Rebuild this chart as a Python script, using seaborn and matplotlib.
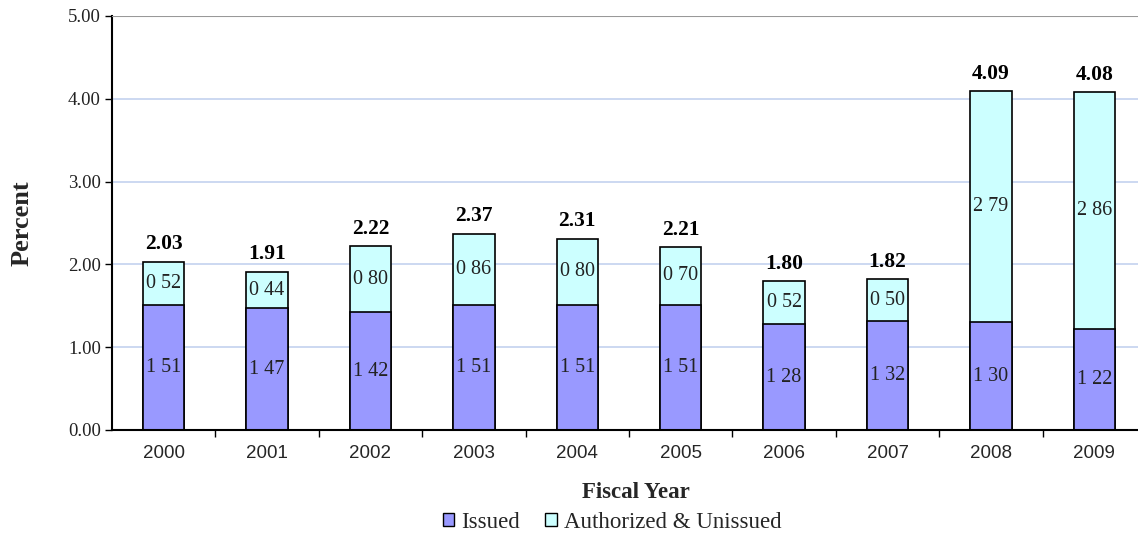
import matplotlib
matplotlib.use("Agg")
import matplotlib.pyplot as plt
import seaborn as sns
import pandas as pd
from matplotlib.patches import Patch

years = ["2000", "2001", "2002", "2003", "2004", "2005", "2006", "2007", "2008", "2009"]
issued = [1.51, 1.47, 1.42, 1.51, 1.51, 1.51, 1.28, 1.32, 1.30, 1.22]
authorized = [0.52, 0.44, 0.80, 0.86, 0.80, 0.70, 0.52, 0.50, 2.79, 2.86]
totals = [2.03, 1.91, 2.22, 2.37, 2.31, 2.21, 1.80, 1.82, 4.09, 4.08]
yticks = [0.0, 1.0, 2.0, 3.0, 4.0, 5.0]

sns.set_theme(style="white")
plt.rcParams["font.family"] = ["Liberation Serif", "DejaVu Serif"]

df = pd.DataFrame({"year": years, "issued": issued, "authorized": authorized, "total": totals})

c_issued = "#9999FF"
c_auth = "#CCFFFF"

fig = plt.figure(figsize=(11.38, 5.35), dpi=100)
ax = fig.add_axes([112 / 1138, 1 - 430 / 535, (1146 - 112) / 1138, (430 - 16) / 535])

sns.barplot(data=df, x="year", y="total", color=c_auth, edgecolor="black", linewidth=1.2,
            width=0.4, saturation=1, ax=ax)
sns.barplot(data=df, x="year", y="issued", color=c_issued, edgecolor="black", linewidth=1.2,
            width=0.4, saturation=1, ax=ax)

ax.set_xlim(-0.5, len(years) - 0.5)
ax.set_ylim(0, 5)
ax.set_yticks(yticks)
ax.set_yticklabels([f"{v:.2f}" for v in yticks], fontsize=13.5, color="#222222")
ax.yaxis.grid(True, color="#C3D2EF", linewidth=1.2)
ax.set_axisbelow(True)
ax.axhline(5.0, color="#999999", linewidth=1.5, zorder=5)

for s in ["right", "top"]:
    ax.spines[s].set_visible(False)
for s in ["left", "bottom"]:
    ax.spines[s].set_visible(True)
    ax.spines[s].set_color("black")
    ax.spines[s].set_linewidth(1.5)

ax.tick_params(axis="y", which="major", direction="out", length=5, width=1, color="black", left=True, pad=3)
ax.set_xticks(range(len(years)))
ax.set_xticklabels(years, fontsize=13.5, family=["Liberation Sans", "DejaVu Sans"])
ax.tick_params(axis="x", which="major", length=0, pad=11)
ax.set_xticks([i + 0.5 for i in range(len(years))], minor=True)
ax.tick_params(axis="x", which="minor", direction="out", length=5, width=1, color="black", bottom=True)

def fmt(v):
    return f"{v:.2f}".replace(".", " ")

for i in range(len(years)):
    ax.text(i, issued[i] / 2, fmt(issued[i]), ha="center", va="center", fontsize=14.5, color="#222222")
    ax.text(i, issued[i] + authorized[i] / 2, fmt(authorized[i]), ha="center", va="center",
            fontsize=14.5, color="#222222")
    ax.text(i, totals[i] + 0.09, f"{totals[i]:.2f}", ha="center", va="bottom", fontsize=15.5,
            fontweight="bold", color="black")

ax.set_xlabel("Fiscal Year", fontsize=16.5, fontweight="bold")
ax.xaxis.set_label_coords((636 - 112) / (1146 - 112), -(482 - 430) / (430 - 16))
ax.set_ylabel("Percent", fontsize=19, fontweight="bold")
ax.yaxis.set_label_coords(-0.076, 0.5)

handles = [Patch(facecolor=c_issued, edgecolor="black", label="Issued"),
           Patch(facecolor=c_auth, edgecolor="black", label="Authorized & Unissued")]
fig.legend(handles=handles, loc="center", bbox_to_anchor=(612 / 1138, 1 - 522 / 535), ncol=2,
           frameon=False, fontsize=16.5, handlelength=0.5, handleheight=0.5, handletextpad=0.3,
           columnspacing=1.1, borderpad=0)

fig.savefig("out.png", dpi=100)
